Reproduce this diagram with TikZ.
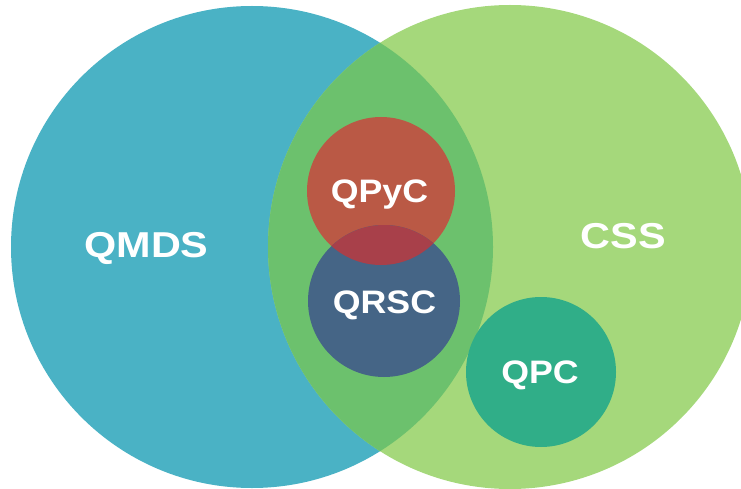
\documentclass[tikz,border=0pt]{standalone}
\usepackage{fontspec}
\setmainfont{Liberation Sans}
\definecolor{cblue}{HTML}{4AB2C5}
\definecolor{cgreen}{HTML}{A5D87B}
\definecolor{cmid}{HTML}{6CC16D}
\definecolor{cred}{HTML}{BA5945}
\definecolor{cnavy}{HTML}{456586}
\definecolor{cmix}{HTML}{A8404A}
\definecolor{cteal}{HTML}{30AE88}
\tikzset{
  lbl/.style={text=white, font=\bfseries\fontsize{32.5}{32.5}\selectfont, inner sep=0pt, anchor=base, xscale=1.1},
  biglbl/.style={text=white, font=\bfseries\fontsize{36}{36}\selectfont, inner sep=0pt, anchor=base, xscale=1.15}
}
\begin{document}
\begin{tikzpicture}[x=1pt,y=-1pt]
\useasboundingbox (0,0) rectangle (741,489);
\clip (0,0) rectangle (741,489);
\coordinate (cq) at (252,247);
\coordinate (cc) at (510,247);
\coordinate (cpy) at (381,191);
\coordinate (crs) at (384,301);
\coordinate (cpc) at (541,372);
\fill[cblue] (cq) circle[radius=241];
\fill[cgreen] (cc) circle[radius=242];
\begin{scope}
  \clip (cq) circle[radius=241];
  \fill[cmid] (cc) circle[radius=242];
\end{scope}
\fill[cred] (cpy) circle[radius=74];
\fill[cnavy] (crs) circle[radius=76];
\begin{scope}
  \clip (cpy) circle[radius=74];
  \fill[cmix] (crs) circle[radius=76];
\end{scope}
\fill[cteal] (cpc) circle[radius=75];
\node[biglbl] (qmds) at (146.5,257) {QMDS};
\node[biglbl] (css) at (623.5,248.5) {CSS};
\node[lbl] (qpyc) at (379.5,202.5) {QPyC};
\node[lbl] (qrsc) at (384.5,313) {QRSC};
\node[lbl] (qpc) at (540,383.5) {QPC};
\end{tikzpicture}
\end{document}
